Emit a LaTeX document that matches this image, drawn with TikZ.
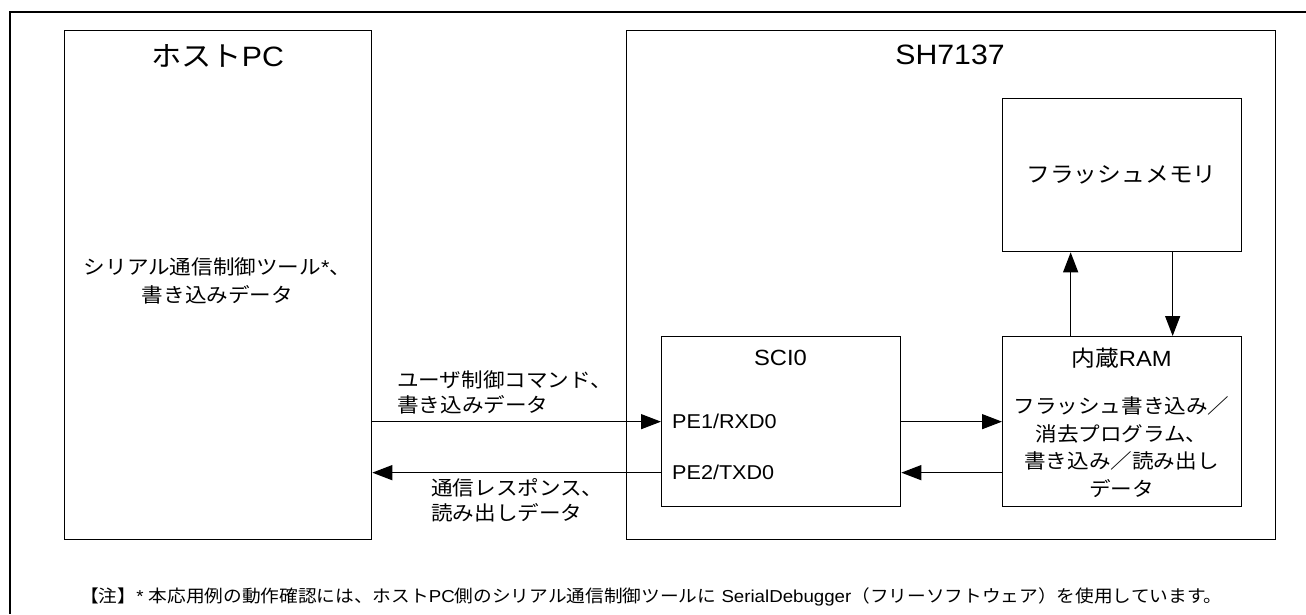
\documentclass[tikz,border=0pt]{standalone}
\usepackage{fontspec}
\setmainfont[FakeStretch=1.08]{Liberation Sans}
\newfontfamily\jp[FakeStretch=1.08]{Noto Sans CJK JP}
\usetikzlibrary{arrows.meta,calc}
\newcommand{\fsz}[2]{\fontsize{#1}{#2}\selectfont}
\begin{document}
\begin{tikzpicture}[x=1pt,y=-1pt,
  box/.style={draw,line width=1.3pt,inner sep=0pt,anchor=north west},
  arr/.style={line width=1.3pt,-{Triangle[length=20pt,width=15pt]}},
  title/.style={inner sep=0pt,font=\fsz{28}{32}},
  lbl/.style={inner sep=0pt,font=\fsz{20}{25}},
  mid/.style={inner sep=0pt,font=\fsz{22}{26}}]
\useasboundingbox (0,0) rectangle (1306,614);
\draw[line width=2.6pt] (1306,12) -- (10,12) -- (10,614);
% boxes
\node[box,minimum width=307pt,minimum height=509pt] (host) at (64,30) {};
\node[box,minimum width=649pt,minimum height=509pt] (sh) at (626,30) {};
\node[box,minimum width=239pt,minimum height=153pt] (flash) at (1002,98) {};
\node[box,minimum width=239pt,minimum height=170pt] (sci) at (661,336) {};
\node[box,minimum width=239pt,minimum height=170pt] (ram) at (1002,336) {};
% texts
\node[title] (hostt) at (217.5,56) {{\jp ホスト}PC};
\node[lbl,align=center,font=\fsz{20}{28}] (hostd) at (217.5,281) {{\jp シリアル通信制御ツール}*{\jp 、}\\{\jp 書き込みデータ}};
\node[title] (sht) at (950,55) {SH7137};
\node[mid] (flasht) at (1121.5,175) {\jp フラッシュメモリ};
\node[mid] (scit) at (780.5,358) {SCI0};
\node[lbl,anchor=west] (pe1) at (672,421) {PE1/RXD0};
\node[lbl,anchor=west] (pe2) at (672,472) {PE2/TXD0};
\node[mid] (ramt) at (1121.5,358) {{\jp 内蔵}RAM};
\node[lbl,align=center,font=\fsz{20}{27.7}] (ramd) at (1121.5,447) {\jp フラッシュ書き込み／\\\jp 消去プログラム、\\\jp 書き込み／読み出し\\\jp データ};
\node[lbl,align=left,anchor=west] (cmd) at (397,392.5) {\jp ユーザ制御コマンド、\\\jp 書き込みデータ};
\node[lbl,align=left,anchor=west] (resp) at (431,500) {\jp 通信レスポンス、\\\jp 読み出しデータ};
\node[inner sep=0pt,anchor=west,font=\fsz{17.3}{20}] (note) at (80,597) {{\jp 【注】}* {\jp 本応用例の動作確認には、ホスト}PC{\jp 側のシリアル通信制御ツールに} SerialDebugger{\jp （フリーソフトウェア）を使用しています。}};
% connectors
\draw[arr] (sci.west -| host.east) -- (sci.west);
\draw[arr] ($(sci.west)+(0,51)$) -- ($(sci.west -| host.east)+(0,51)$);
\draw[arr] (sci.east) -- (ram.west);
\draw[arr] ($(ram.west)+(0,51)$) -- ($(sci.east)+(0,51)$);
\draw[arr] ($(ram.north)+(-51.5,0)$) -- ($(flash.south)+(-51.5,0)$);
\draw[arr] ($(flash.south)+(50.5,0)$) -- ($(ram.north)+(50.5,0)$);
\end{tikzpicture}
\end{document}
